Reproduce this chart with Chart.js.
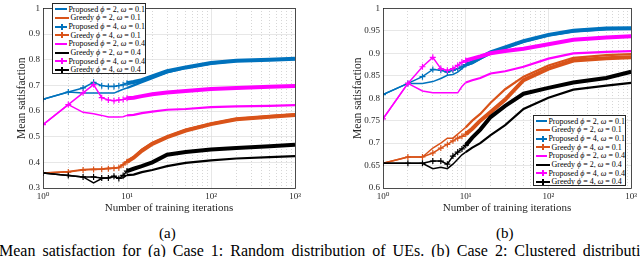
<!DOCTYPE html>
<html>
<head>
<meta charset="utf-8">
<script src="https://cdn.jsdelivr.net/npm/chart.js@4.4.1/dist/chart.umd.min.js"></script>
<style>
  body { margin: 0; background: #fff; }
  #page { position: relative; width: 640px; height: 257px; overflow: hidden; font-family: "Liberation Serif", "DejaVu Serif", serif; }
  canvas { position: absolute; top: 0; }
  #chartA { left: 0; }
  #chartB { left: 320px; }
  .legend { position: absolute; background: #fff; border: 1px solid #262626; box-sizing: border-box; font-size: 8px; color: #000; padding-top: 1px; }
  .legend .row { height: 8.65px; display: flex; align-items: center; white-space: nowrap; }
  .legend .sample { position: relative; width: 14px; margin: 0 1.5px 0 2px; border-top: 2px solid currentColor; height: 0; }
  .legend .sample.mark::after { content: ''; position: absolute; left: 6.4px; top: -4px; width: 1.3px; height: 6px; background: currentColor; }
  .legend .txt { color: #000; }
  .cap { position: absolute; font-size: 15px; color: #000; white-space: nowrap; }
</style>
</head>
<body>
<div id="page">
  <canvas id="chartA" width="320" height="215"></canvas>
  <canvas id="chartB" width="320" height="215"></canvas>
  <div class="legend" id="legendA" style="left:52px; top:3px; width:94px; height:71px;"></div>
  <div class="legend" id="legendB" style="left:533px; top:115px; width:93px; height:71px;"></div>
  <div class="cap" style="left:159px; top:225px;">(a)</div>
  <div class="cap" style="left:496px; top:225px;">(b)</div>
  <div class="cap" id="caption" style="left:-1px; top:242px; font-size:16px; word-spacing:3px;">Mean satisfaction for (a) Case 1: Random distribution of UEs. (b) Case 2: Clustered distribution of UEs.</div>
</div>
<script>
/* ===============================
   DATA
================================ */
const iterations = [1, 2, 3, 4, 5, 6, 7, 8, 9, 10, 12, 15, 20, 30, 50, 100, 200, 500, 1000];

const seriesMethod = ['Proposed', 'Greedy', 'Proposed', 'Greedy', 'Proposed', 'Greedy', 'Proposed', 'Greedy'];
const seriesPhi = [2, 2, 4, 4, 2, 2, 4, 4];
const seriesOmega = ['0.1', '0.1', '0.1', '0.1', '0.4', '0.4', '0.4', '0.4'];
const seriesColors = ['#0072BD', '#D95319', '#0072BD', '#D95319', '#FF00FF', '#000000', '#FF00FF', '#000000'];
const seriesMarked = [false, false, true, true, false, false, true, true];

const xTickValues = [1, 10, 100, 1000];
const xTickLabels = ['10⁰', '10¹', '10²', '10³'];
const yTicksA = [0.3, 0.4, 0.5, 0.6, 0.7, 0.8, 0.9, 1];
const yTicksB = [0.6, 0.65, 0.7, 0.75, 0.8, 0.85, 0.9, 0.95, 1];

// (a) Case 1
const a_prop_phi2_w01 = [0.646, 0.674, 0.670, 0.670, 0.670, 0.670, 0.670, 0.678, 0.685, 0.690, 0.700, 0.712, 0.728, 0.750, 0.768, 0.785, 0.795, 0.800, 0.802];
const a_greedy_phi2_w01 = [0.358, 0.364, 0.372, 0.374, 0.374, 0.378, 0.378, 0.381, 0.393, 0.406, 0.420, 0.450, 0.475, 0.500, 0.527, 0.551, 0.570, 0.580, 0.587];
const a_prop_phi4_w01 = [0.646, 0.674, 0.690, 0.712, 0.699, 0.696, 0.696, 0.699, 0.702, 0.708, 0.713, 0.720, 0.735, 0.755, 0.770, 0.787, 0.796, 0.800, 0.804];
const a_greedy_phi4_w01 = [0.358, 0.362, 0.370, 0.372, 0.373, 0.375, 0.377, 0.379, 0.390, 0.402, 0.418, 0.445, 0.472, 0.498, 0.524, 0.549, 0.568, 0.578, 0.585];
const a_prop_phi2_w04 = [0.547, 0.625, 0.595, 0.589, 0.583, 0.577, 0.577, 0.577, 0.578, 0.583, 0.585, 0.592, 0.598, 0.605, 0.608, 0.615, 0.618, 0.620, 0.623];
const a_greedy_phi2_w04 = [0.358, 0.349, 0.343, 0.320, 0.337, 0.340, 0.345, 0.338, 0.340, 0.350, 0.352, 0.362, 0.370, 0.385, 0.398, 0.408, 0.415, 0.420, 0.424];
const a_prop_phi4_w04 = [0.547, 0.625, 0.671, 0.703, 0.652, 0.643, 0.640, 0.643, 0.645, 0.650, 0.652, 0.658, 0.665, 0.672, 0.678, 0.686, 0.690, 0.695, 0.698];
const a_greedy_phi4_w04 = [0.358, 0.349, 0.343, 0.343, 0.339, 0.339, 0.346, 0.337, 0.349, 0.366, 0.375, 0.385, 0.400, 0.430, 0.440, 0.450, 0.456, 0.463, 0.469];

// (b) Case 2
const b_prop_phi2_w01 = [0.808, 0.833, 0.833, 0.837, 0.844, 0.851, 0.853, 0.858, 0.866, 0.873, 0.878, 0.888, 0.900, 0.912, 0.926, 0.940, 0.949, 0.954, 0.955];
const b_greedy_phi2_w01 = [0.655, 0.669, 0.669, 0.689, 0.700, 0.711, 0.711, 0.720, 0.728, 0.735, 0.750, 0.765, 0.790, 0.820, 0.848, 0.873, 0.890, 0.896, 0.898];
const b_prop_phi4_w01 = [0.808, 0.833, 0.848, 0.864, 0.862, 0.858, 0.862, 0.866, 0.870, 0.875, 0.880, 0.890, 0.902, 0.913, 0.927, 0.941, 0.950, 0.955, 0.956];
const b_greedy_phi4_w01 = [0.655, 0.669, 0.669, 0.678, 0.689, 0.697, 0.705, 0.711, 0.715, 0.720, 0.732, 0.750, 0.769, 0.797, 0.840, 0.866, 0.884, 0.889, 0.891];
const b_prop_phi2_w04 = [0.754, 0.833, 0.816, 0.812, 0.812, 0.812, 0.812, 0.812, 0.826, 0.835, 0.840, 0.845, 0.855, 0.860, 0.870, 0.888, 0.900, 0.903, 0.905];
const b_greedy_phi2_w04 = [0.655, 0.655, 0.655, 0.643, 0.646, 0.643, 0.653, 0.664, 0.674, 0.680, 0.690, 0.700, 0.718, 0.740, 0.776, 0.801, 0.819, 0.828, 0.834];
const b_prop_phi4_w04 = [0.754, 0.833, 0.870, 0.891, 0.866, 0.862, 0.866, 0.873, 0.880, 0.884, 0.888, 0.893, 0.900, 0.905, 0.910, 0.920, 0.930, 0.935, 0.938];
const b_greedy_phi4_w04 = [0.655, 0.655, 0.655, 0.660, 0.660, 0.653, 0.671, 0.680, 0.687, 0.695, 0.712, 0.730, 0.758, 0.783, 0.810, 0.823, 0.835, 0.845, 0.859];

const caseA = [a_prop_phi2_w01, a_greedy_phi2_w01, a_prop_phi4_w01, a_greedy_phi4_w01, a_prop_phi2_w04, a_greedy_phi2_w04, a_prop_phi4_w04, a_greedy_phi4_w04];
const caseB = [b_prop_phi2_w01, b_greedy_phi2_w01, b_prop_phi4_w01, b_greedy_phi4_w01, b_prop_phi2_w04, b_greedy_phi2_w04, b_prop_phi4_w04, b_greedy_phi4_w04];

/* ===============================
   HELPERS
================================ */
const SERIF = '"Liberation Serif", "DejaVu Serif", serif';
const AXIS_COLOR = '#262626';

function seriesLabel(i) {
  return `${seriesMethod[i]} ϕ = ${seriesPhi[i]}, ω = ${seriesOmega[i]}`;
}

function minorTicks() {
  const out = [];
  for (let d = 1; d <= 100; d *= 10) {
    for (let k = 2; k <= 9; k++) out.push(k * d);
  }
  return out;
}

// axes box, MATLAB style
const framePlugin = {
  id: 'frame',
  afterDatasetsDraw(chart) {
    const { ctx, chartArea: a } = chart;
    ctx.save();
    ctx.strokeStyle = AXIS_COLOR;
    ctx.lineWidth = 0.8;
    ctx.strokeRect(Math.round(a.left) + 0.5, Math.round(a.top) + 0.5, Math.round(a.right - a.left), Math.round(a.bottom - a.top));
    ctx.restore();
  },
};

function buildDatasets(values) {
  return values.map((arr, i) => ({
    label: seriesLabel(i),
    data: iterations.map((x, j) => ({ x: x, y: arr[j] })),
    borderColor: seriesColors[i],
    backgroundColor: seriesColors[i],
    borderWidth: 1.5,
    pointStyle: 'cross',
    pointBorderWidth: 1.2,
    pointRadius: (ctx) => (seriesMarked[i] && iterations[ctx.dataIndex] <= 10 ? 3 : 0),
    pointHoverRadius: 0,
    tension: 0,
    order: values.length - i,
    segment: {
      borderWidth: (ctx) => (ctx.p0.parsed.x >= 10 ? (seriesMarked[i] ? 4 : 2.2) : 1.5),
    },
  }));
}

function makeChart(canvasId, values, yTicks, yMin, yMax, yAxisWidth, yTitlePad, rightPad) {
  return new Chart(document.getElementById(canvasId), {
    type: 'line',
    data: { datasets: buildDatasets(values) },
    plugins: [framePlugin],
    options: {
      responsive: false,
      animation: false,
      events: [],
      layout: { padding: { top: 3, right: rightPad, left: 0, bottom: 0 } },
      plugins: { legend: { display: false }, tooltip: { enabled: false } },
      scales: {
        x: {
          type: 'logarithmic',
          min: 1,
          max: 1000,
          afterBuildTicks: (s) => { s.ticks = xTickValues.map((v) => ({ value: v, major: true })); },
          afterFit: (s) => { s.height = 27; },
          grid: { color: '#dcdcdc', lineWidth: 0.7, drawTicks: false },
          border: { display: false },
          ticks: {
            autoSkip: false,
            maxRotation: 0,
            padding: 3,
            color: AXIS_COLOR,
            font: { family: SERIF, size: 9 },
            callback: (v) => xTickLabels[xTickValues.indexOf(v)],
          },
          title: {
            display: true,
            text: 'Number of training iterations',
            color: AXIS_COLOR,
            font: { family: SERIF, size: 11 },
            padding: 0,
          },
        },
        xMinor: {
          type: 'logarithmic',
          position: 'top',
          min: 1,
          max: 1000,
          afterBuildTicks: (s) => { s.ticks = minorTicks().map((v) => ({ value: v })); },
          afterFit: (s) => { s.height = 0; },
          grid: { color: '#c4c4c4', lineWidth: 0.7, drawTicks: false },
          border: { display: false, dash: [1, 2] },
          ticks: { display: false },
        },
        y: {
          min: yMin,
          max: yMax,
          afterBuildTicks: (s) => { s.ticks = yTicks.map((v) => ({ value: v })); },
          afterFit: (s) => { s.width = yAxisWidth; },
          grid: { color: '#dcdcdc', lineWidth: 0.7, drawTicks: false },
          border: { display: false },
          ticks: {
            padding: 3,
            color: AXIS_COLOR,
            font: { family: SERIF, size: 9 },
            callback: (v) => String(+Number(v).toFixed(2)),
          },
          title: {
            display: true,
            text: 'Mean satisfaction',
            color: AXIS_COLOR,
            font: { family: SERIF, size: 11.5 },
            padding: { top: yTitlePad, bottom: 0 },
          },
        },
      },
    },
  });
}

function buildLegend(id) {
  const box = document.getElementById(id);
  seriesMethod.forEach((m, i) => {
    const row = document.createElement('div');
    row.className = 'row';
    row.innerHTML = `
      <span class="sample${seriesMarked[i] ? ' mark' : ''}" style="color:${seriesColors[i]}"></span>
      <span class="txt">${m} <i>ϕ</i> = ${seriesPhi[i]}, <i>ω</i> = ${seriesOmega[i]}</span>
    `;
    box.appendChild(row);
  });
}

/* ===============================
   RENDER
================================ */
makeChart('chartA', caseA, yTicksA, 0.3, 1, 43, 15, 25);
makeChart('chartB', caseB, yTicksB, 0.6, 1, 63, 31, 5);
buildLegend('legendA');
buildLegend('legendB');
</script>
</body>
</html>
